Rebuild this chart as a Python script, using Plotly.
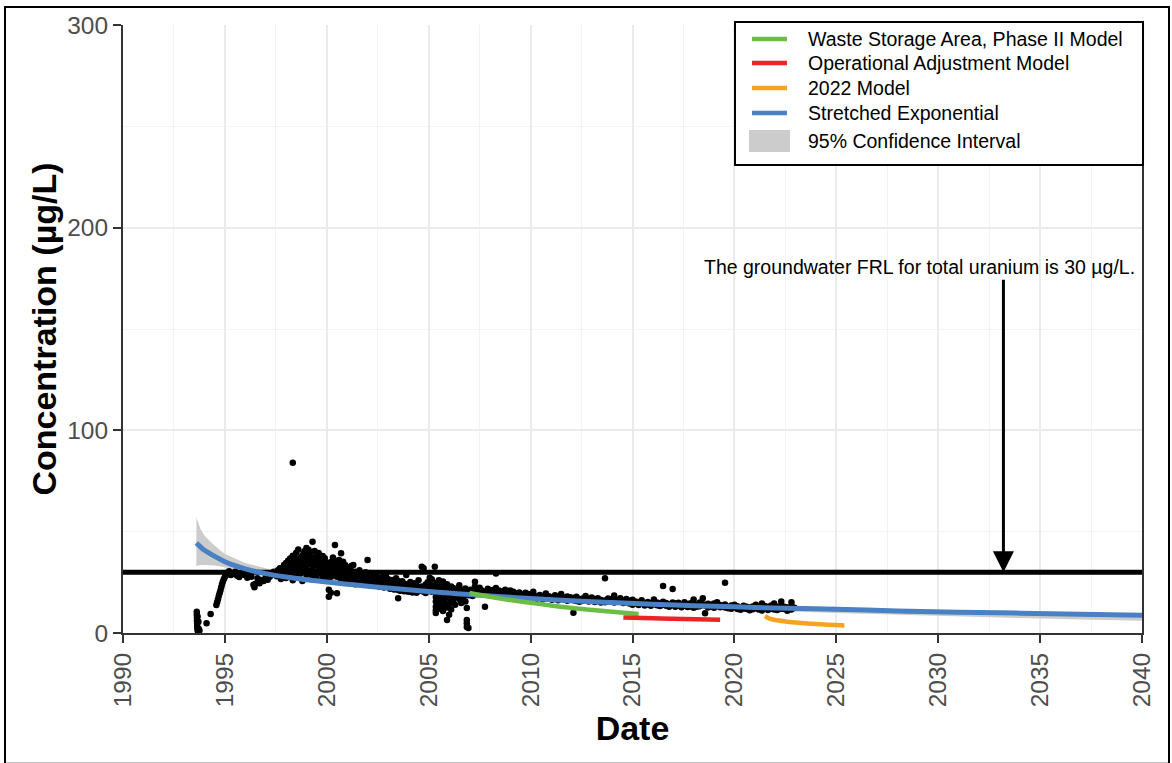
import plotly.graph_objects as go

# ---- observed total uranium concentrations (decimal year, µg/L) ----
obs_1993_1995 = [
    (1993.62, [10.5, 9.0]), (1993.63, [7.5, 6.0]), (1993.64, [4.8, 3.5]),
    (1993.65, [2.4]), (1993.66, [1.5, 8.2]), (1993.68, [0.8]), (1993.70, [0.5, 5.5]),
    (1993.72, [2.0]), (1993.75, [1.2]), (1994.10, [4.8]), (1994.30, [9.4]),
    (1994.58, [13.8]), (1994.62, [15.2]), (1994.66, [16.6]), (1994.70, [18.2]),
    (1994.74, [19.6]), (1994.78, [21.0]), (1994.82, [22.6]), (1994.86, [24.0]),
    (1994.90, [25.4]), (1994.95, [26.6]), (1995.00, [27.6]), (1995.05, [28.4]),
    (1995.10, [29.2]),
]
obs_1995_1998 = [
    (1995.2, [30.5]), (1995.3, [28.6]), (1995.4, [29.5]), (1995.5, [30.2]),
    (1995.6, [28.2]), (1995.7, [27.6]), (1995.8, [29.4]), (1995.9, [28.8]),
    (1996.0, [28.5]), (1996.1, [27.2]), (1996.2, [29.2]), (1996.3, [27.8]),
    (1996.4, [23.8]), (1996.45, [22.6]), (1996.5, [24.3]), (1996.6, [27.0]),
    (1996.7, [24.6]), (1996.8, [26.1]), (1996.9, [25.6]), (1997.0, [27.4]),
    (1997.1, [26.3]), (1997.2, [27.8]), (1997.3, [28.6]), (1997.4, [30.2]),
    (1997.5, [29.1]), (1997.55, [28.0]), (1997.6, [31.0]), (1997.7, [31.9]),
    (1997.75, [26.6]), (1997.8, [30.4]), (1997.9, [33.5]), (1997.95, [31.0]),
]
obs_1998_2002 = [
    (1998.0, [32.5, 29.4, 34.6, 27.1]), (1998.1, [30.8, 35.6, 33.0, 28.3]),
    (1998.2, [31.9, 36.8, 29.5, 34.0]), (1998.33, [84.0, 33.7, 38.1, 30.2, 26.0]),
    (1998.4, [35.2, 31.4, 28.6, 37.5]), (1998.5, [33.2, 39.6, 29.8, 36.1]),
    (1998.6, [34.8, 31.0, 41.2, 27.5]), (1998.7, [37.0, 32.6, 29.3, 35.5]),
    (1998.8, [38.4, 34.0, 30.7, 25.6]), (1998.9, [36.2, 40.3, 31.8, 33.4]),
    (1999.0, [35.1, 38.9, 28.8, 32.0, 42.0]), (1999.1, [37.7, 33.9, 30.3, 41.1]),
    (1999.2, [34.7, 39.8, 36.3, 29.0]), (1999.3, [45.0, 37.2, 33.0, 31.2, 27.3]),
    (1999.4, [36.0, 40.4, 34.4, 30.1]), (1999.5, [38.3, 33.6, 35.8, 28.4, 26.4]),
    (1999.6, [34.9, 37.6, 31.7, 39.5]), (1999.7, [36.6, 32.4, 29.6, 34.1]),
    (1999.8, [33.8, 38.0, 30.6, 27.6]), (1999.9, [35.3, 31.3, 28.2, 36.9]),
    (2000.0, [34.2, 30.0, 32.7, 26.9]), (2000.1, [17.9, 21.3, 33.1, 29.1]),
    (2000.2, [31.5, 35.0, 27.8, 19.8]), (2000.3, [30.9, 33.5, 28.7, 37.3]),
    (2000.4, [43.4, 32.1, 29.9, 35.7]), (2000.5, [19.6, 31.4, 34.5, 27.7]),
    (2000.6, [30.4, 33.9, 28.1, 36.0]), (2000.7, [39.4, 31.6, 29.0, 26.2]),
    (2000.8, [32.8, 30.1, 35.2, 27.5]), (2000.9, [31.1, 29.5, 33.6, 25.8]),
    (2001.0, [30.3, 28.2, 32.2, 26.7]), (2001.1, [29.3, 31.8, 27.3, 24.9]),
    (2001.2, [28.5, 30.6, 26.4, 33.0]), (2001.3, [33.5, 29.8, 27.0, 25.2]),
    (2001.4, [28.8, 26.0, 30.2, 24.1]), (2001.5, [27.9, 29.4, 25.5]),
    (2001.6, [28.4, 26.8, 24.7, 31.0]), (2001.7, [27.3, 25.9, 29.0]),
    (2001.8, [26.6, 28.7, 24.3]), (2001.9, [27.6, 25.3, 30.0]),
    (2002.0, [36.0, 26.2, 28.0, 24.0]), (2002.1, [25.7, 27.4, 23.5, 29.6]),
]
obs_2002_2005 = [
    (2002.2, [26.5, 24.4, 28.6]), (2002.3, [25.4, 27.8, 23.3]), (2002.4, [24.8, 26.9, 29.0]),
    (2002.5, [25.9, 23.6, 27.1]), (2002.6, [24.1, 26.3, 22.8]), (2002.7, [25.1, 23.2, 27.5]),
    (2002.8, [24.5, 26.0, 22.5]), (2002.9, [23.7, 25.7, 28.3]), (2003.0, [24.9, 22.9, 26.6]),
    (2003.1, [23.4, 25.3, 21.8]), (2003.2, [24.2, 22.4, 26.1]), (2003.3, [23.0, 25.0, 21.5]),
    (2003.4, [24.0, 22.1, 27.0]), (2003.5, [17.2, 23.1, 25.6, 21.2]), (2003.6, [22.6, 24.6, 20.9]),
    (2003.7, [23.6, 21.7, 25.5]), (2003.8, [22.3, 24.3, 20.6]), (2003.9, [28.6, 23.0, 21.4]),
    (2004.0, [22.0, 24.0, 20.3]), (2004.1, [23.3, 21.1, 25.2]), (2004.2, [21.8, 23.7, 20.0]),
    (2004.3, [22.7, 20.8, 24.5]), (2004.4, [21.5, 23.4, 19.8]), (2004.5, [22.4, 20.6, 26.0]),
    (2004.66, [32.7, 21.2, 23.0]), (2004.75, [32.0, 20.4, 22.1]), (2004.85, [21.9, 23.9, 19.7]),
    (2004.95, [22.6, 20.9, 25.1]), (2005.05, [21.6, 24.4, 27.2]), (2005.15, [22.9, 20.3, 26.5]),
    (2005.3, [32.7, 23.5, 21.0]),
]
obs_2005_2007 = [
    (2005.35, [17.8, 15.5, 13.0, 11.2, 9.9]), (2005.4, [24.8, 22.0, 19.5]),
    (2005.5, [26.0, 18.0, 14.5, 12.0]), (2005.6, [23.4, 21.1, 16.5]),
    (2005.7, [25.4, 19.9, 13.5, 10.8]), (2005.8, [22.4, 17.2, 15.0]),
    (2005.9, [6.4, 24.0, 20.7, 12.6]), (2006.0, [21.8, 18.8, 14.2, 9.0]),
    (2006.1, [23.0, 16.3, 11.6]), (2006.2, [22.2, 19.4, 15.7]),
    (2006.3, [20.6, 17.6, 13.9]), (2006.4, [21.5, 18.3]),
    (2006.5, [20.1, 16.8, 23.6]), (2006.6, [19.0, 21.2, 14.8]),
    (2006.7, [20.4, 17.9]), (2006.8, [19.6, 22.0, 15.5]),
    (2006.87, [12.3, 6.4, 4.8, 3.0]), (2006.95, [20.8, 18.6, 2.5]),
    (2007.05, [19.3, 21.4]), (2007.15, [20.0, 18.2]), (2007.27, [25.3, 22.9]),
]
obs_2007_2015 = [
    (2007.4, [21.5, 19.6]), (2007.5, [20.7, 22.3]), (2007.6, [19.2, 21.0]),
    (2007.76, [13.0, 20.2]), (2007.9, [21.8, 19.5]), (2008.0, [20.6, 18.8]),
    (2008.15, [21.2, 19.9]), (2008.3, [29.4, 22.2, 20.5]), (2008.45, [19.3, 21.0]),
    (2008.6, [20.2, 18.6]), (2008.75, [21.4, 19.1]), (2008.9, [19.8, 18.2]),
    (2009.0, [21.0, 19.4]), (2009.15, [18.7, 20.3]), (2009.3, [19.6, 17.9]),
    (2009.45, [20.0, 18.4]), (2009.6, [18.9, 17.5]), (2009.75, [19.8, 18.1]),
    (2009.9, [17.8, 19.2]), (2010.05, [18.6, 17.2]), (2010.13, [20.4, 19.0]),
    (2010.3, [18.0, 16.9]), (2010.45, [17.6, 18.8]), (2010.6, [18.3, 16.6]),
    (2010.75, [19.5, 17.3]), (2010.9, [17.0, 18.1]), (2011.05, [16.4, 17.7]),
    (2011.2, [18.6, 16.9]), (2011.35, [17.2, 16.1]), (2011.5, [19.2, 17.8]),
    (2011.65, [16.5, 17.4]), (2011.8, [18.0, 15.9]), (2011.95, [16.8, 17.6]),
    (2012.1, [10.0, 16.2, 17.3]), (2012.25, [17.9, 15.8]), (2012.4, [16.6, 15.4]),
    (2012.55, [17.0, 15.9]), (2012.7, [18.3, 16.3]), (2012.85, [15.6, 16.9]),
    (2013.0, [16.1, 17.5]), (2013.15, [15.3, 16.6]), (2013.3, [17.2, 15.8]),
    (2013.45, [16.3, 15.0]), (2013.65, [27.0, 16.0, 15.2]), (2013.8, [17.0, 15.6]),
    (2013.95, [15.9, 16.6]), (2014.1, [18.5, 15.0]), (2014.25, [16.2, 15.4]),
    (2014.4, [15.7, 17.2]), (2014.55, [14.8, 16.0]), (2014.7, [15.5, 16.8]),
    (2014.85, [14.6, 15.9]),
]
obs_2015_2023 = [
    (2015.0, [15.2, 14.0, 16.4]), (2015.15, [14.5, 15.6]), (2015.3, [13.8, 15.0]),
    (2015.45, [14.9, 16.2]), (2015.6, [13.6, 14.4]), (2015.75, [15.3, 14.1]),
    (2015.9, [13.4, 14.7]), (2016.05, [16.5, 14.3]), (2016.2, [13.7, 15.1]),
    (2016.35, [14.6, 13.3]), (2016.5, [23.2, 14.0, 15.4]), (2016.65, [13.5, 14.8]),
    (2016.8, [14.2, 13.0]), (2016.97, [21.7, 15.0, 13.8]), (2017.1, [14.5, 12.9]),
    (2017.25, [13.6, 14.9]), (2017.4, [12.7, 14.1]), (2017.55, [15.2, 13.4]),
    (2017.7, [14.3, 12.8]), (2017.85, [13.1, 14.7]), (2018.0, [16.5, 13.8, 12.5]),
    (2018.15, [14.0, 12.9]), (2018.3, [13.2, 15.0]), (2018.45, [17.1, 14.2]),
    (2018.56, [9.7, 13.6]), (2018.7, [12.6, 14.4]), (2018.85, [13.9, 12.9]),
    (2019.0, [14.6, 12.4]), (2019.15, [13.3, 15.2]), (2019.3, [12.7, 13.8]),
    (2019.54, [24.8, 14.1, 12.6]), (2019.7, [13.0, 12.2]), (2019.85, [13.6, 12.0]),
    (2020.0, [12.7, 13.9]), (2020.15, [11.8, 13.2]), (2020.3, [12.4, 11.5]),
    (2020.45, [13.5, 12.1]), (2020.6, [11.9, 12.9]), (2020.75, [12.6, 11.2]),
    (2020.9, [13.1, 11.7]), (2021.05, [12.2, 14.0]), (2021.2, [11.6, 12.8]),
    (2021.35, [14.5, 11.1]), (2021.5, [12.5, 13.3]), (2021.65, [11.4, 12.8]),
    (2021.8, [13.6, 12.0]), (2021.95, [11.6, 14.6]), (2022.1, [12.9, 11.3]),
    (2022.3, [15.5, 13.4, 12.0]), (2022.45, [11.9, 13.0]), (2022.6, [12.6, 11.0]),
    (2022.8, [15.2, 13.3, 11.6]), (2022.95, [12.4]),
]

# ---- model curves (decimal year, µg/L) ----
sx_year = [1993.6, 1993.8, 1994.0, 1994.5, 1995.0, 1995.5, 1996.0, 1997.0, 1998.0,
           1999.0, 2000.0, 2001.0, 2002.0, 2003.0, 2004.0, 2005.0, 2006.0, 2007.0,
           2008.0, 2010.0, 2012.0, 2014.0, 2016.0, 2018.0, 2020.0, 2022.0, 2025.0,
           2028.0, 2031.0, 2034.0, 2037.0, 2040.0]
sx_fit = [44.4, 42.5, 40.8, 37.8, 35.2, 33.2, 31.6, 29.3, 27.6, 26.3, 25.2, 24.1,
          23.1, 22.2, 21.3, 20.5, 19.7, 19.0, 18.3, 17.0, 15.9, 15.0, 14.2, 13.5,
          12.9, 12.3, 11.7, 10.9, 10.3, 9.8, 9.3, 8.8]
ci_upper = [57.0, 51.5, 48.0, 43.0, 39.0, 36.6, 34.6, 32.0, 30.0, 28.5, 27.2, 26.1,
            25.0, 24.0, 23.0, 22.1, 21.3, 20.4, 19.6, 18.1, 16.8, 15.7, 14.7, 13.9,
            13.2, 12.6, 12.0, 11.3, 10.7, 10.1, 9.6, 9.1]
ci_lower = [33.0, 33.5, 33.5, 33.3, 32.4, 31.2, 30.0, 28.0, 26.4, 25.2, 24.2, 23.2,
            22.2, 21.3, 20.5, 19.7, 18.9, 18.2, 17.5, 16.1, 14.9, 13.9, 13.0, 12.2,
            11.5, 10.8, 9.9, 9.0, 8.2, 7.4, 6.7, 6.0]

wsa_year = [2007.0, 2008.0, 2009.0, 2010.0, 2011.0, 2012.0, 2013.0, 2014.0, 2015.3]
wsa_fit = [19.7, 17.9, 16.3, 14.9, 13.6, 12.4, 11.4, 10.5, 9.4]

oam_year = [2014.55, 2016.0, 2017.5, 2019.3]
oam_fit = [7.7, 7.3, 6.9, 6.5]

m22_year = [2021.5, 2021.7, 2022.0, 2022.5, 2023.0, 2024.0, 2025.4]
m22_fit = [8.4, 7.2, 6.4, 5.7, 5.2, 4.4, 3.7]

frl_value = 30
frl_span = [1990, 2040]
arrow_year = 2033.2
arrow_top = 175

x_ticks = list(range(1990, 2041, 5))
y_ticks = [0, 100, 200, 300]

legend_names = ["Waste Storage Area, Phase II Model", "Operational Adjustment Model",
                "2022 Model", "Stretched Exponential", "95% Confidence Interval"]


def flatten(*groups):
    xs, ys = [], []
    for group in groups:
        for yr, vals in group:
            for v in vals:
                xs.append(yr)
                ys.append(v)
    return xs, ys


obs_x, obs_y = flatten(obs_1993_1995, obs_1995_1998, obs_1998_2002, obs_2002_2005,
                       obs_2005_2007, obs_2007_2015, obs_2015_2023)

FONT = "Liberation Sans, Arial, sans-serif"
GREEN, RED, ORANGE, BLUE, GREY = "#6cbd45", "#ec2327", "#f5a321", "#4a80c4", "#cccccc"
legend_colors = [GREEN, RED, ORANGE, BLUE, GREY]

fig = go.Figure()

# confidence band
fig.add_trace(go.Scatter(x=sx_year, y=ci_lower, mode="lines", line=dict(width=0, color=GREY),
                         showlegend=False, hoverinfo="skip"))
fig.add_trace(go.Scatter(x=sx_year, y=ci_upper, mode="lines", line=dict(width=0, color=GREY),
                         fill="tonexty", fillcolor=GREY, name=legend_names[4], showlegend=False))

# observations
fig.add_trace(go.Scatter(x=obs_x, y=obs_y, mode="markers",
                         marker=dict(color="black", size=6.5), showlegend=False))

# FRL line
fig.add_trace(go.Scatter(x=frl_span, y=[frl_value, frl_value], mode="lines",
                         line=dict(color="black", width=5), showlegend=False))

# models
fig.add_trace(go.Scatter(x=sx_year, y=sx_fit, mode="lines", line=dict(color=BLUE, width=5, shape="spline"),
                         name=legend_names[3], showlegend=False))
fig.add_trace(go.Scatter(x=wsa_year, y=wsa_fit, mode="lines", line=dict(color=GREEN, width=4.5, shape="spline"),
                         name=legend_names[0], showlegend=False))
fig.add_trace(go.Scatter(x=oam_year, y=oam_fit, mode="lines", line=dict(color=RED, width=4.5, shape="spline"),
                         name=legend_names[1], showlegend=False))
fig.add_trace(go.Scatter(x=m22_year, y=m22_fit, mode="lines", line=dict(color=ORANGE, width=4.5, shape="spline"),
                         name=legend_names[2], showlegend=False))

fig.add_annotation(x=2029.1, y=180.6, text="The groundwater FRL for total uranium is 30 µg/L.",
                   showarrow=False, font=dict(family=FONT, size=19.5, color="black"))
fig.add_annotation(x=arrow_year, y=frl_value, ax=arrow_year, ay=arrow_top, axref="x", ayref="y",
                   text="", showarrow=True, arrowhead=2, arrowsize=1.4, arrowwidth=3,
                   arrowcolor="black")

# ---- legend box (paper coordinates of the plotting area) ----
fig.add_shape(type="rect", xref="paper", yref="paper", x0=0.6006, x1=1.001, y0=0.7697, y1=1.0049,
              line=dict(color="black", width=2), fillcolor="white", layer="above")
entry_y = [0.9770, 0.9375, 0.8964, 0.8553, 0.8092]
for i, (name, color) in enumerate(zip(legend_names, legend_colors)):
    yy = entry_y[i]
    if i < 4:
        fig.add_shape(type="line", xref="paper", yref="paper", x0=0.6173, x1=0.6516, y0=yy, y1=yy,
                      line=dict(color=color, width=4.5), layer="above")
    else:
        fig.add_shape(type="rect", xref="paper", yref="paper", x0=0.6143, x1=0.6546,
                      y0=yy - 0.018, y1=yy + 0.018, line=dict(width=0), fillcolor=color, layer="above")
    fig.add_annotation(xref="paper", yref="paper", x=0.6703, y=yy, xanchor="left", yanchor="middle",
                       text=name, showarrow=False, font=dict(family=FONT, size=19.5, color="black"))

# frame around the whole figure
fig.add_shape(type="rect", xref="paper", yref="paper", x0=-0.1158, x1=1.0265, y0=-0.215, y1=1.0296,
              line=dict(color="black", width=2), layer="above")

axis_common = dict(
    showline=True, linecolor="#333333", linewidth=2,
    ticks="outside", ticklen=8, tickwidth=2, tickcolor="#333333",
    tickfont=dict(family=FONT, size=24.5, color="#4d4d4d"),
    showgrid=True, gridcolor="#ebebeb", gridwidth=2, zeroline=False,
)

fig.update_layout(
    width=1172, height=763,
    margin=dict(l=123, r=30, t=25, b=130),
    paper_bgcolor="white", plot_bgcolor="white",
    font=dict(family=FONT),
    showlegend=False,
    xaxis=dict(range=[1990, 2040], tickvals=x_ticks, tickangle=-90,
               minor=dict(dtick=2.5, tick0=1990, showgrid=True, gridcolor="#f3f3f3", gridwidth=1),
               title=dict(text="Date", font=dict(family=FONT, size=34, color="black", weight="bold"), standoff=10),
               **axis_common),
    yaxis=dict(range=[0, 300], tickvals=y_ticks, mirror=True,
               minor=dict(dtick=50, tick0=0, showgrid=True, gridcolor="#f3f3f3", gridwidth=1),
               title=dict(text="Concentration (µg/L)", font=dict(family=FONT, size=34, color="black", weight="bold"), standoff=0),
               **axis_common),
)

fig.write_html("out.html")
